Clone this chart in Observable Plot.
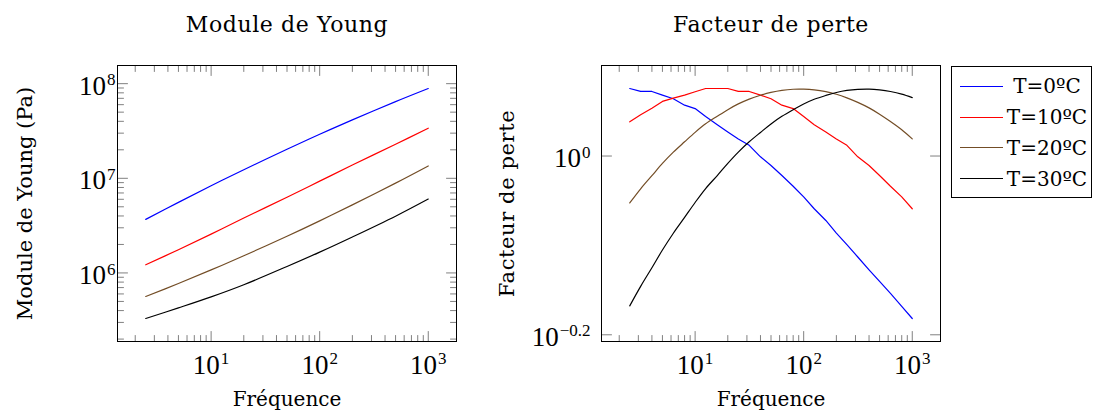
<!DOCTYPE html>
<html><head><meta charset="utf-8">
<script src="https://cdn.jsdelivr.net/npm/d3@7"></script>
<script src="https://cdn.jsdelivr.net/npm/@observablehq/plot@0.6"></script>
<style>
html,body{margin:0;padding:0;background:#fff;}
#wrap{position:relative;width:1095px;height:411px;overflow:hidden;font-family:"DejaVu Serif",serif;}
#wrap svg{position:absolute;top:0;}
#legend{position:absolute;left:951px;top:66px;width:139px;height:126px;border:1px solid #000;padding-top:4px;background:#fff;font-family:"DejaVu Serif",serif;font-size:20px;}
#legend .row{display:flex;align-items:center;height:30.8px;}
#legend .sw{width:43px;height:0;border-top:1.2px solid;margin-left:8px;}
#legend .lb{flex:1;text-align:center;white-space:nowrap;}
</style></head>
<body><div id="wrap"></div>
<script>
// ---- data ----
const frequenceYoung = [2.5, 5, 10, 20, 50, 100, 200, 500, 1000];
const young0  = [3.68e6, 5.57e6, 8.34e6, 1.23e7, 2.03e7, 2.92e7, 4.14e7, 6.46e7, 8.89e7];
const young10 = [1.22e6, 1.76e6, 2.57e6, 3.80e6, 6.31e6, 9.33e6, 1.38e7, 2.29e7, 3.38e7];
const young20 = [5.64e5, 7.73e5, 1.076e6, 1.52e6, 2.44e6, 3.55e6, 5.24e6, 8.89e6, 1.35e7];
const young30 = [3.30e5, 4.27e5, 5.58e5, 7.50e5, 1.17e6, 1.66e6, 2.40e6, 3.98e6, 6.04e6];

const frequencePerte = [2.5, 3.15, 4, 5, 6.3, 8, 10, 12.5, 16, 20, 25, 31.5, 40, 50, 63, 80, 100, 125, 160, 200, 250, 315, 400, 500, 630, 800, 1000];
const perte0  = [1.190, 1.181, 1.181, 1.170, 1.159, 1.140, 1.130, 1.107, 1.084, 1.064, 1.045, 1.028, 0.998, 0.976, 0.951, 0.925, 0.900, 0.873, 0.847, 0.820, 0.796, 0.771, 0.746, 0.724, 0.702, 0.679, 0.658];
const perte10 = [1.092, 1.112, 1.131, 1.151, 1.161, 1.170, 1.180, 1.190, 1.190, 1.190, 1.181, 1.181, 1.170, 1.159, 1.140, 1.130, 1.107, 1.084, 1.064, 1.045, 1.028, 0.998, 0.976, 0.951, 0.925, 0.900, 0.873];
const perte20 = [0.8861, 0.9190, 0.9506, 0.9811, 1.0100, 1.0373, 1.0629, 1.0864, 1.1079, 1.1269, 1.1437, 1.1580, 1.1695, 1.1781, 1.1844, 1.1877, 1.1879, 1.1858, 1.1803, 1.1725, 1.1617, 1.1482, 1.1321, 1.1138, 1.0929, 1.0700, 1.0452];
const perte30 = [0.6798, 0.7148, 0.7499, 0.7849, 0.8196, 0.8537, 0.8872, 0.9196, 0.9510, 0.9813, 1.0102, 1.0373, 1.0627, 1.0862, 1.1076, 1.1267, 1.1434, 1.1574, 1.1690, 1.1779, 1.1841, 1.1874, 1.1882, 1.1858, 1.1809, 1.1730, 1.1625];

const seriesLabels = ["T=0ºC", "T=10ºC", "T=20ºC", "T=30ºC"];
const seriesColors = ["#0000ff", "#ff0000", "#734d26", "#000000"];

const xTicks = [10, 100, 1000];
const xTickLabels = ["10^1", "10^2", "10^3"];
const xMinor = [2,3,4,5,6,7,8,9,20,30,40,50,60,70,80,90,200,300,400,500,600,700,800,900];
const youngTicks = [1e6, 1e7, 1e8];
const youngTickLabels = ["10^6", "10^7", "10^8"];
const youngMinor = [2e5,3e5,4e5,5e5,6e5,7e5,8e5,9e5,2e6,3e6,4e6,5e6,6e6,7e6,8e6,9e6,2e7,3e7,4e7,5e7,6e7,7e7,8e7,9e7];
const perteTicks = [Math.pow(10, -0.2), 1];
const perteTickLabels = ["10^\u22120.2", "10^0"];
const perteMinor = [];

const titles = ["Module de Young", "Facteur de perte"];
const yLabels = ["Module de Young (Pa)", "Facteur de perte"];
const xLabel = "Fréquence";

// ---- helpers ----
function logDomain(values, pad) {
  const [a, b] = d3.extent(values).map(Math.log10);
  const e = (b - a) * pad;
  return [Math.pow(10, a - e), Math.pow(10, b + e)];
}
const tickShape = {draw(ctx, l) { ctx.moveTo(0, 0); ctx.lineTo(0, -l); }};
const tickColor = "#808080";
function frameTicksX(vals, len) {
  return [
    Plot.vectorX(vals, {x: d => d, frameAnchor: "bottom", length: len, rotate: 0, anchor: "start", shape: tickShape, stroke: tickColor, strokeWidth: 1}),
    Plot.vectorX(vals, {x: d => d, frameAnchor: "top", length: len, rotate: 180, anchor: "start", shape: tickShape, stroke: tickColor, strokeWidth: 1})
  ];
}
function frameTicksY(vals, len) {
  return [
    Plot.vectorY(vals, {y: d => d, frameAnchor: "left", length: len, rotate: 90, anchor: "start", shape: tickShape, stroke: tickColor, strokeWidth: 1}),
    Plot.vectorY(vals, {y: d => d, frameAnchor: "right", length: len, rotate: -90, anchor: "start", shape: tickShape, stroke: tickColor, strokeWidth: 1})
  ];
}
function superscripts(svg) {
  d3.select(svg).selectAll("text").each(function () {
    const t = this.textContent;
    const sel = d3.select(this);
    if (titles.includes(t)) { sel.style("letter-spacing", "0.6px"); return; }
    const k = t.indexOf("^");
    if (k < 0) return;
    sel.text(null);
    sel.append("tspan").text(t.slice(0, k));
    sel.append("tspan").attr("dy", -9.5).attr("dx", 1).attr("font-size", 17).text(t.slice(k + 1));
  });
}

function panel({xs, series, smooth, yTicks, yTickLabels, yMinor, title, ylabel, ml, mr, ypad, ylabelDx}) {
  const xDomain = logDomain(xs, 0.1);
  const yDomain = logDomain(series.flat(), 0.1);
  const marks = [
    ...series.map((vals, k) => Plot.line(vals.map((v, i) => ({f: xs[i], v})),
      {x: "f", y: "v", stroke: seriesColors[k], strokeWidth: 1.2, curve: smooth[k] ? "catmull-rom" : "linear"})),
    ...frameTicksX(xMinor, 6), ...frameTicksX(xTicks, 10),
    ...frameTicksY(yMinor, 6), ...frameTicksY(yTicks, 10),
    Plot.frame({stroke: "#000", strokeWidth: 1}),
    Plot.text(xTicks, {x: d => d, text: (d, i) => xTickLabels[i], frameAnchor: "bottom", lineAnchor: "top", textAnchor: "middle",
      dy: 13, fontSize: 27, fontFamily: "Liberation Serif"}),
    Plot.text(yTicks, {y: d => d, text: (d, i) => yTickLabels[i], frameAnchor: "left", lineAnchor: "middle", textAnchor: "end",
      dx: -ypad, dy: 2.5, fontSize: 27, fontFamily: "Liberation Serif"}),
    Plot.text([title], {text: d => d, frameAnchor: "top", lineAnchor: "middle", textAnchor: "middle", dy: -41, fontSize: 22}),
    Plot.text([ylabel], {text: d => d, frameAnchor: "left", lineAnchor: "middle", textAnchor: "middle", dx: ylabelDx, rotate: -90, fontSize: 21}),
    Plot.text([xLabel], {text: d => d, frameAnchor: "bottom", lineAnchor: "middle", textAnchor: "middle", dy: 58, fontSize: 20})
  ];
  const svg = Plot.plot({
    width: 470, height: 411,
    marginLeft: ml, marginRight: mr, marginTop: 65, marginBottom: 70,
    x: {type: "log", domain: xDomain, axis: null},
    y: {type: "log", domain: yDomain, axis: null},
    style: {fontFamily: "DejaVu Serif", fontSize: "20px", background: "transparent", overflow: "visible", color: "#000"},
    marks
  });
  superscripts(svg);
  return svg;
}

const wrap = document.getElementById("wrap");
const left = panel({xs: frequenceYoung, series: [young0, young10, young20, young30], smooth: [true, true, true, true],
  yTicks: youngTicks, yTickLabels: youngTickLabels, yMinor: youngMinor,
  title: titles[0], ylabel: yLabels[0], ml: 117, mr: 14, ypad: 2, ylabelDx: -92});
left.style.left = "0px";
wrap.appendChild(left);

const right = panel({xs: frequencePerte, series: [perte0, perte10, perte20, perte30], smooth: [false, false, true, true],
  yTicks: perteTicks, yTickLabels: perteTickLabels, yMinor: perteMinor,
  title: titles[1], ylabel: yLabels[1], ml: 121, mr: 10, ypad: 11, ylabelDx: -94});
right.style.left = "480px";
wrap.appendChild(right);

// legend
const legend = document.createElement("div");
legend.id = "legend";
seriesLabels.forEach((lab, k) => {
  const row = document.createElement("div");
  row.className = "row";
  const sw = document.createElement("div");
  sw.className = "sw";
  sw.style.borderTopColor = seriesColors[k];
  const lb = document.createElement("div");
  lb.className = "lb";
  lb.textContent = lab;
  row.appendChild(sw); row.appendChild(lb);
  legend.appendChild(row);
});
wrap.appendChild(legend);
</script>
</body></html>
